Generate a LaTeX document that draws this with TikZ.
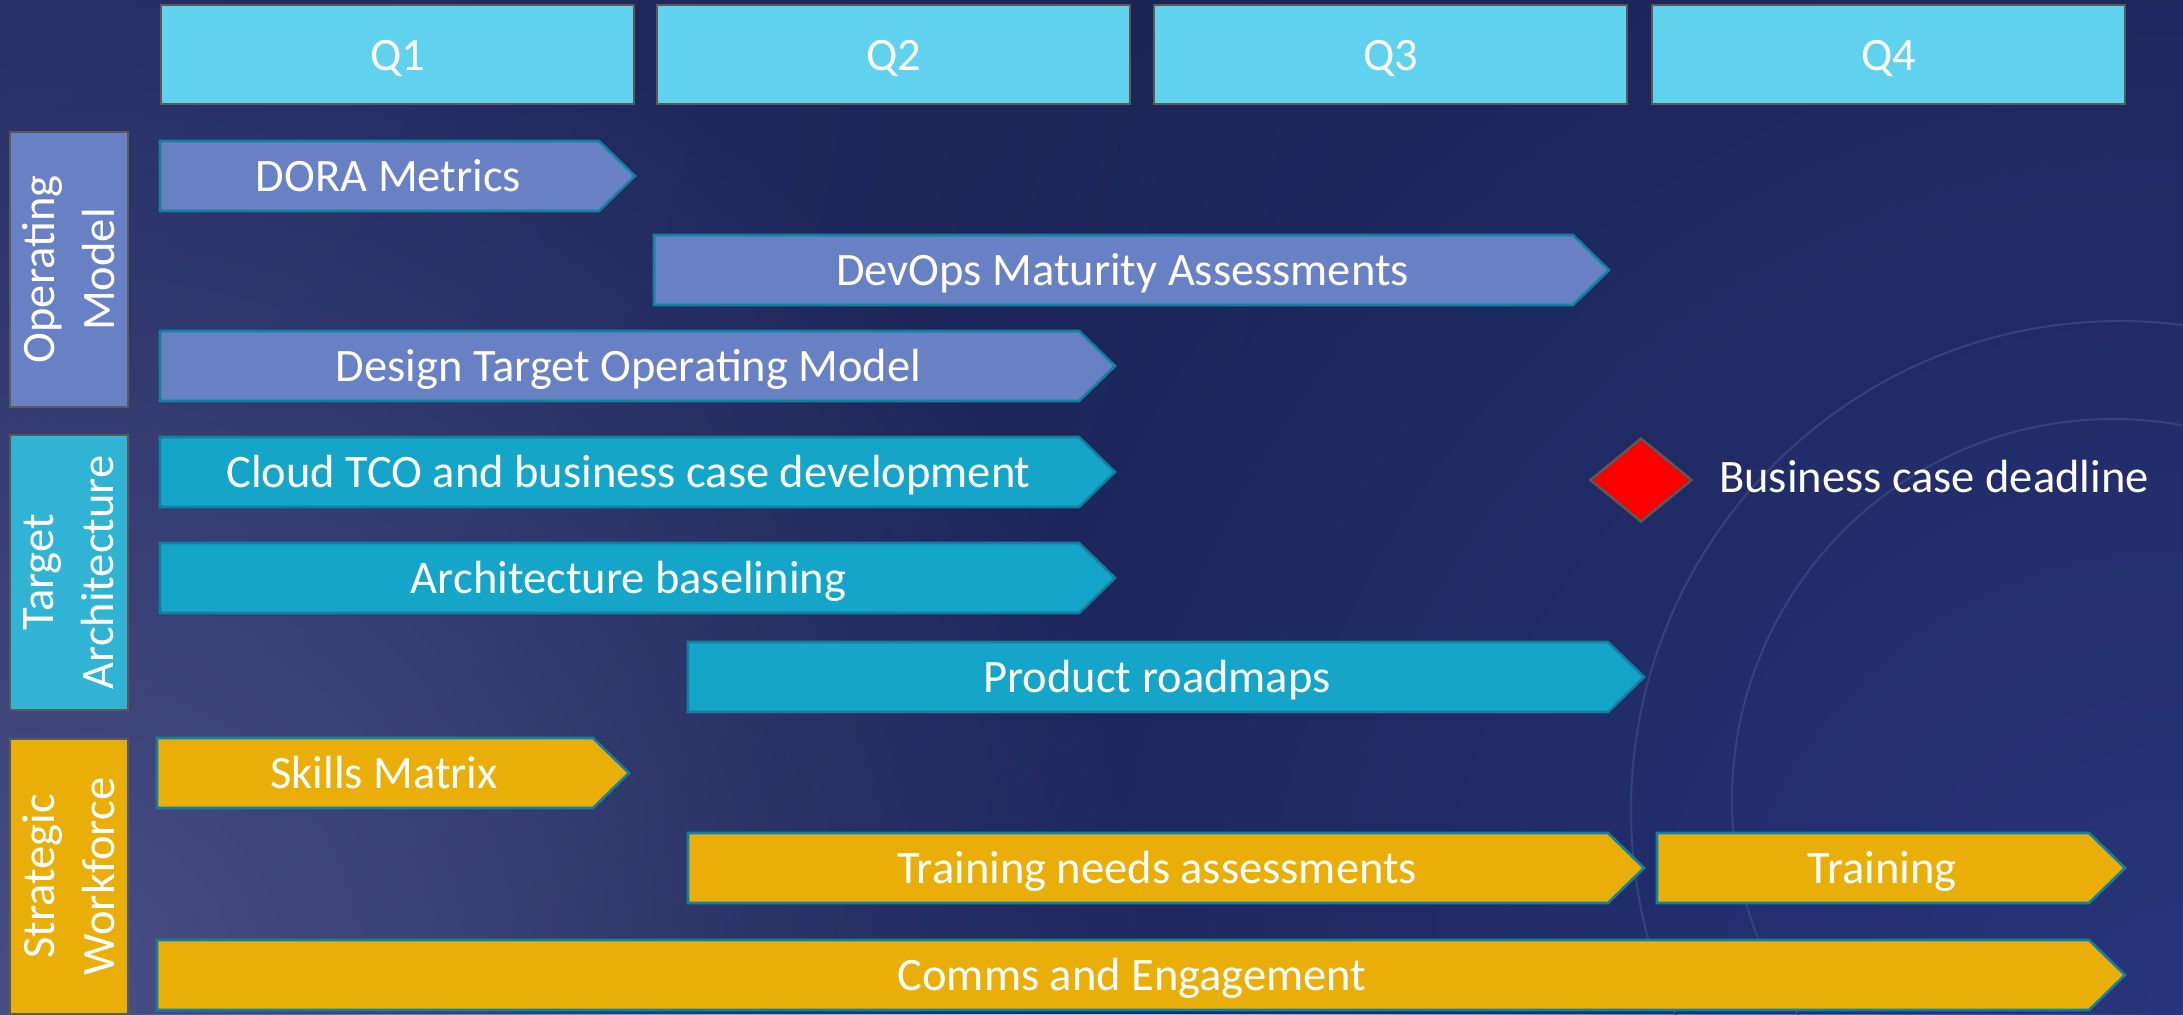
\documentclass[tikz,border=0pt]{standalone}
\usepackage{fontspec}
\setmainfont{Carlito}
\usetikzlibrary{shapes.geometric,fadings}
\tikzfading[name=glowfade, inner color=transparent!0, outer color=transparent!100]
\definecolor{bgbase}{HTML}{1A2253}
\definecolor{bgglow}{HTML}{4A5086}
\definecolor{bgright}{HTML}{28367A}
\definecolor{bgtop}{HTML}{242E66}
\definecolor{arccol}{HTML}{34427E}
\definecolor{qfill}{HTML}{61D2EE}
\definecolor{opfill}{HTML}{6880C4}
\definecolor{talabel}{HTML}{31B3D3}
\definecolor{tabar}{HTML}{14A5C9}
\definecolor{swfill}{HTML}{E9AF08}
\definecolor{barline}{HTML}{13809F}
\definecolor{boxline}{HTML}{595959}
\definecolor{msred}{HTML}{FF0000}
\newcommand\bigfont{\fontsize{46.5}{60}\selectfont}
\newcommand\ganttbar[6]{%
  \draw[barframe, fill=#5] (#2,#4) -- ({#3-36},#4) -- (#3,{#4+35}) -- ({#3-36},{#4+70}) -- (#2,{#4+70}) -- cycle;
  \node[bartext] (#1) at ({(#2+#3)/2-9},{#4+50}) {#6};
}
\tikzset{
  barframe/.style={draw=barline, line width=2.6pt, line join=miter},
  bartext/.style={anchor=base, text=white, font=\bigfont, inner sep=0pt},
  qbox/.style={draw=boxline, line width=2.6pt, fill=qfill, minimum width=473pt, minimum height=99pt, inner sep=0pt},
  qtext/.style={anchor=base, text=white, font=\bigfont, inner sep=0pt},
  lanebox/.style={draw=boxline, line width=2.6pt, minimum width=118pt, minimum height=275pt, inner sep=0pt},
  lanetext/.style={rotate=90, text=white, font=\bigfont, align=center, inner sep=0pt},
}
\begin{document}
\begin{tikzpicture}[x=1pt,y=-1pt]
\useasboundingbox (0,0) rectangle (2183,1014);
% background
\begin{scope}
\clip (0,0) rectangle (2183,1014);
\fill[bgbase] (0,0) rectangle (2183,1014);
\fill[bgtop, path fading=glowfade] (0,0) circle (1400);
\fill[bgright, path fading=glowfade] (2183,1014) circle (1500);
\fill[bgglow, path fading=glowfade] (60,1000) circle (1100);
\draw[arccol, line width=2pt] (2120,810) circle (489);
\draw[arccol, line width=2pt] (2113,800) circle (381);
\end{scope}
% quarter headers
\node[qbox] (q1) at (397.5,54.5) {};
\node[qbox] (q2) at (893.5,54.5) {};
\node[qbox] (q3) at (1390.5,54.5) {};
\node[qbox] (q4) at (1888.5,54.5) {};
\node[qtext] (q1t) at (397.5,71) {Q1};
\node[qtext] (q2t) at (893.5,71) {Q2};
\node[qtext] (q3t) at (1390.5,71) {Q3};
\node[qtext] (q4t) at (1888.5,71) {Q4};
% lane labels
\node[lanebox, fill=opfill] (lop) at (69,269.5) {};
\node[lanebox, fill=talabel] (lta) at (69,572.5) {};
\node[lanebox, fill=swfill] (lsw) at (69,876.5) {};
\node[lanetext] (lopt) at (69,269.5) {Operating\\Model};
\node[lanetext] (ltat) at (69,572.5) {Target\\Architecture};
\node[lanetext] (lswt) at (69,876.5) {Strategic\\Workforce};
% bars
\ganttbar{dora}{160}{635}{141}{opfill}{DORA Metrics}
\ganttbar{devops}{654}{1609}{235}{opfill}{DevOps Maturity Assessments}
\ganttbar{tom}{160}{1115}{331}{opfill}{Design Target Operating Model}
\ganttbar{tco}{160}{1115}{437}{tabar}{Cloud TCO and business case development}
\ganttbar{arch}{160}{1115}{543}{tabar}{Architecture baselining}
\ganttbar{prod}{688}{1644}{642}{tabar}{Product roadmaps}
\ganttbar{skills}{157}{629}{738}{swfill}{Skills Matrix}
\ganttbar{tna}{688}{1644}{833}{swfill}{Training needs assessments}
\ganttbar{train}{1657}{2125}{833}{swfill}{Training}
\ganttbar{comms}{157}{2125}{940}{swfill}{Comms and Engagement}
% milestone
\node[diamond, draw=boxline, line width=2.6pt, fill=msred, minimum width=102pt, minimum height=84pt, inner sep=0pt] (ms) at (1641,480) {};
\node[anchor=base west, text=white, font=\bigfont, inner sep=0pt] (mstext) at (1719,492) {Business case deadline};
\end{tikzpicture}
\end{document}
